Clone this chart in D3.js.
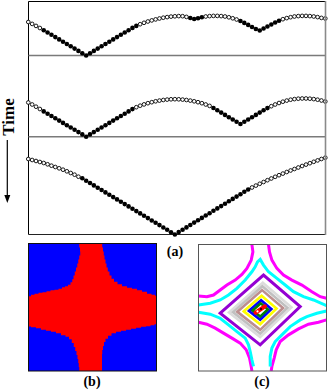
<!DOCTYPE html>
<html><head><meta charset="utf-8">
<script src="https://cdn.jsdelivr.net/npm/d3@7"></script>
<style>body{margin:0;background:#fff}svg{display:block}</style>
</head><body><script>
// ---------- DATA ----------
const dotCount = 78;
// heights (px-like units above each row's baseline)
const row1Heights = [33.5,31.6,29.6,27.5,
 25.3,23.0,20.7,18.4,16.1,13.8,11.5,9.2,6.9,4.6,2.3,0,
 2.3,4.6,6.9,9.2,11.5,13.8,16.1,18.4,20.7,23.0,25.3,27.6,29.6,
 31.3,32.7,34.0,35.1,36.1,37.0,37.8,38.4,38.9,39.2,39.4,39.3,38.6,
 37.5,36.5,37.2,38.2,
 39.0,39.4,39.6,39.6,39.4,39.0,38.2,37.2,36.0,
 34.5,32.6,30.6,28.5,26.5,25.0,27.0,29.0,31.0,33.0,34.8,
 36.3,37.4,38.3,39.0,39.4,39.6,39.6,39.4,39.0,38.4,37.6,37.0];
const row1Pattern = "oooo"+"fffffffffffffffffffffffff"+"ooooooooooooo"+"ffff"+"ooooooooo"+"fffffffffff"+"oooooooooooo";

const row2Heights = [34.2,32.2,30.0,27.7,
 25.3,23.0,20.7,18.4,16.1,13.8,11.5,9.2,6.9,4.6,2.3,0,
 2.3,4.6,6.9,9.2,11.5,13.8,16.1,18.4,20.7,23.0,25.3,27.6,
 29.5,31.0,32.3,33.5,34.5,35.4,36.1,36.7,37.1,37.4,37.5,37.4,37.1,36.7,36.1,35.4,34.5,33.5,32.2,30.8,
 28.7,26.4,24.1,21.8,19.5,17.2,14.9,12.7,14.9,17.2,19.5,21.8,24.1,26.4,28.6,
 30.5,32.2,33.7,35.0,36.1,37.0,37.6,38.0,38.2,38.2,38.0,37.6,37.0,36.2,35.2];
const row2Pattern = "oooo"+"ffffffffffffffffffffffff"+"oooooooooooooooooooo"+"fffffffffffffff"+"ooooooooooooooo";

const row3Heights = [75.5,74.5,73.5,72.5,71.5,70.2,68.8,67.5,66.2,64.8,63.2,61.5,59.8,57.8,
 56.2,53.8,51.5,49.1,46.8,44.5,42.1,39.8,37.4,35.1,32.8,30.4,28.1,25.7,23.4,21.1,18.7,16.4,14.0,11.7,9.4,7.0,4.7,2.3,0,
 2.4,4.7,7.1,9.5,11.9,14.2,16.6,19.0,21.3,23.7,26.1,28.4,30.8,33.2,35.6,37.9,40.3,42.7,45.0,
 47.0,48.9,50.7,52.5,54.3,56.0,57.7,59.3,60.9,62.5,64.0,65.5,67.0,68.5,69.9,71.3,72.7,74.1,75.5,76.8];
const row3Pattern = "oooooooooooooo"+"ffffffffffffffffffffffffffffffffffffffffffff"+"oooooooooooooooooooo";

const rowMax = [53.5, 81.2, 97.8];

// panel (b): blue corner regions (local units 0..128)
const blueTopLeft = [[0,0],[50.5,0],[51,4],[52,8],[51.5,12],[50,16],[49.5,20],[48,24],[47,28],[45.5,32],[44.5,36],[43,39],[41,41.5],[38,43],[35,44],[32,45.5],[28,46.5],[24,47],[20,48],[16,49],[12,49.5],[8,50.5],[4,51.5],[1,53],[0,53.3]];
const blueTopRight = [[128,0],[73.4,0],[74,4],[75,8],[75.5,12],[76.5,16],[77.5,20],[78.5,24],[80,28],[82,32],[84,35.5],[87,38.5],[91,41],[96,43],[101,44.5],[106,45.5],[111,47],[116,48.5],[121,50.5],[125,51.5],[128,52.5]];
const blueBottomLeft = [[0,128],[0,83.3],[5,84],[10,85],[15,86.5],[20,87.5],[25,88.5],[30,90],[35,92],[39,93.5],[42,96],[44.5,100],[46,104],[47.5,108],[48.5,112],[49.5,116],[50,120],[50.5,124],[51,128]];
const blueBottomRight = [[128,128],[128,81],[124,82],[120,83],[115,83.5],[110,84.5],[105,85.5],[100,86.5],[95,87.5],[90,88.5],[85,90],[81,92.5],[78,95.5],[76,99],[75,103],[74,107],[73.5,111],[73.5,116],[73.5,122],[73.5,128]];

// panel (c): contour lines (local units 0..128)
const magentaLines = [
 [[53.4,0],[54.4,7.4],[52.7,15.7],[48.4,24],[43.4,30],[36.7,35.7],[28.4,40.7],[21.7,45.7],[15,50.7],[8.4,52.4],[0,51.7]],
 [[70,0],[71,7.4],[73.4,15.7],[78.4,24],[85,30.7],[93.4,35.7],[103.4,40.7],[113.4,47.4],[121.7,52.4],[128,54]],
 [[0,78],[8.4,80],[16.7,84],[25,89],[33.4,94],[41.7,99],[47.7,105.7],[51,114],[52.7,122.4],[53.4,127]],
 [[128,75.7],[120,78],[110,80],[100,84.7],[90,90.7],[81.7,97.4],[77.7,105.7],[75.7,114],[73.4,122.4],[72.7,127]]
];
const cyanLines = [
 [[0,60.7],[11.7,59],[21.7,55.7],[30,50.7],[38.4,44],[46.7,35.7],[53.4,27.4],[56.7,22.4],[59,17.4],[61.7,15],[65,20.7],[70,27.4],[78.4,34],[86.7,40.7],[95,47.4],[105,52.4],[115,55.7],[128,61.4]],
 [[128,66.7],[118.4,69],[108.4,72.4],[101.7,75.7],[91.7,82.4],[83.4,90.7],[76.7,97.4],[73.4,104],[71.7,112.4],[71.7,122.4]],
 [[0,68],[11.7,70],[21.7,74],[30,80.7],[38.4,87.4],[46.7,94],[50,100.7],[51.7,107.4],[53.4,115.7],[55,122.4]]
];
const diamondColors = ["#9400d3","#dcdcdc","#c0c0c0","#bc8f8f","#ffff00","#0000ff","#008000"];
const diamonds = [
 [[21.7,69],[65,30.7],[101.7,62.4],[61.7,100.7]],
 [[30.5,68.3],[64.3,38.4],[92.9,63.1],[61.7,93]],
 [[34.5,67.9],[63.9,41.9],[88.9,63.5],[61.7,89.5]],
 [[38.9,67.6],[63.6,45.8],[84.5,63.8],[61.7,85.7]],
 [[45.3,67.1],[63.1,51.4],[78.1,64.3],[61.7,80.1]],
 [[50.5,66.6],[62.6,55.9],[72.9,64.8],[61.7,75.5]],
 [[54.1,66.3],[62.3,59.1],[69.3,65.1],[61.7,72.4]]
];
const centerBlob = [[57,68.5],[66.5,62]];

const labels = ["(a)","(b)","(c)"];
const axisTitle = "Time";

// ---------- DRAW ----------
const W = 329, H = 390;
const svg = d3.select("body").append("svg").attr("width",W).attr("height",H);
const serif = "'Liberation Serif','Times New Roman',serif";

// Panel (a)
const xA = d3.scaleLinear().domain([0, dotCount-1]).range([28.3, 325.3]);
const rowBase = [55.5, 136.7, 234.5];
const rowTop = [2, 55.5, 136.7];
const rows = [[row1Heights,row1Pattern],[row2Heights,row2Pattern],[row3Heights,row3Pattern]];

svg.append("line").attr("x1",28.5).attr("x2",325.5).attr("y1",1.5).attr("y2",1.5).attr("stroke","#000").attr("stroke-width",1);
svg.append("line").attr("x1",28.5).attr("x2",28.5).attr("y1",1.5).attr("y2",234.5).attr("stroke","#000").attr("stroke-width",1);
svg.append("line").attr("x1",28.5).attr("x2",325.5).attr("y1",234.5).attr("y2",234.5).attr("stroke","#222").attr("stroke-width",1.2);
[55.5,136.7].forEach(y=>svg.append("line").attr("x1",28.5).attr("x2",325.5).attr("y1",y).attr("y2",y).attr("stroke","#7a7a7a").attr("stroke-width",1.5));

rows.forEach(([hs,pat],r)=>{
  const y = d3.scaleLinear().domain([0,rowMax[r]]).range([rowBase[r], rowTop[r]]);
  const g = svg.append("g");
  g.selectAll("circle").data(hs).join("circle")
    .attr("cx",(d,i)=>xA(i)).attr("cy",d=>y(d))
    .attr("r",(d,i)=>pat[i]==="f"?2.3:1.85)
    .attr("fill",(d,i)=>pat[i]==="f"?"#000":"#fff")
    .attr("stroke",(d,i)=>pat[i]==="f"?"none":"#000")
    .attr("stroke-width",0.9);
});
svg.append("line").attr("x1",325.5).attr("x2",325.5).attr("y1",1).attr("y2",235).attr("stroke","#8a8a8a").attr("stroke-width",1.6);

// Time label + arrow
svg.append("text").attr("transform","translate(13.5,117) rotate(-90)")
  .attr("text-anchor","middle").attr("font-family",serif).attr("font-weight","bold").attr("font-size",17).text(axisTitle);
svg.append("line").attr("x1",7.3).attr("x2",7.3).attr("y1",140).attr("y2",197).attr("stroke","#000").attr("stroke-width",1.2);
svg.append("path").attr("d","M4.3,195 L10.3,195 L7.3,203 Z").attr("fill","#000");

// Panel (b)
const xB = d3.scaleLinear().domain([0,128]).range([28.5,156.5]);
const yB = d3.scaleLinear().domain([0,128]).range([243.5,371]);
svg.append("rect").attr("x",xB(0)).attr("y",yB(0)).attr("width",xB(128)-xB(0)).attr("height",yB(128)-yB(0)).attr("fill","#ff0000");
const lineB = d3.line().x(d=>xB(d[0])).y(d=>yB(d[1])).curve(d3.curveStep);
[blueTopLeft,blueTopRight,blueBottomLeft,blueBottomRight].forEach(p=>{
  svg.append("path").attr("d",lineB(p)+"Z").attr("fill","#0000ff");
});
svg.append("rect").attr("x",xB(0)).attr("y",yB(0)).attr("width",xB(128)-xB(0)).attr("height",yB(128)-yB(0)).attr("fill","none").attr("stroke","#111").attr("stroke-width",1);

// Panel (c)
const xC = d3.scaleLinear().domain([0,128]).range([198.5,326.5]);
const yC = d3.scaleLinear().domain([0,127]).range([244.5,371]);
const lineC = d3.line().x(d=>xC(d[0])).y(d=>yC(d[1]));
const gc = svg.append("g");
gc.append("clipPath").attr("id","clipc").append("rect").attr("x",xC(0)).attr("y",yC(0)).attr("width",xC(128)-xC(0)).attr("height",yC(127)-yC(0));
const gcc = gc.append("g").attr("clip-path","url(#clipc)");
magentaLines.forEach(p=>gcc.append("path").attr("d",lineC(p)).attr("fill","none").attr("stroke","#ff00ff").attr("stroke-width",3));
cyanLines.forEach(p=>gcc.append("path").attr("d",lineC(p)).attr("fill","none").attr("stroke","#00ffff").attr("stroke-width",3));
diamonds.forEach((p,i)=>gcc.append("path").attr("d",lineC(p)+"Z").attr("fill","none").attr("stroke",diamondColors[i]).attr("stroke-width",i===0?3:2.6).attr("stroke-linejoin","miter"));
gcc.append("path").attr("d",lineC(centerBlob)).attr("stroke","#ff0000").attr("stroke-width",4).attr("stroke-linecap","round");
gcc.append("circle").attr("cx",xC(59)).attr("cy",yC(67.2)).attr("r",1.1).attr("fill","#fff");
gcc.append("circle").attr("cx",xC(62.5)).attr("cy",yC(64.8)).attr("r",1).attr("fill","#000");
svg.append("rect").attr("x",xC(0)).attr("y",yC(0)).attr("width",xC(128)-xC(0)).attr("height",yC(127)-yC(0)).attr("fill","none").attr("stroke","#555").attr("stroke-width",1);

// labels
const labPos = [[175,256],[92,385.5],[262,385.5]];
labels.forEach((t,i)=>svg.append("text").attr("x",labPos[i][0]).attr("y",labPos[i][1]).attr("text-anchor","middle")
  .attr("font-family",serif).attr("font-weight","bold").attr("font-size",14).text(t));
</script></body></html>
